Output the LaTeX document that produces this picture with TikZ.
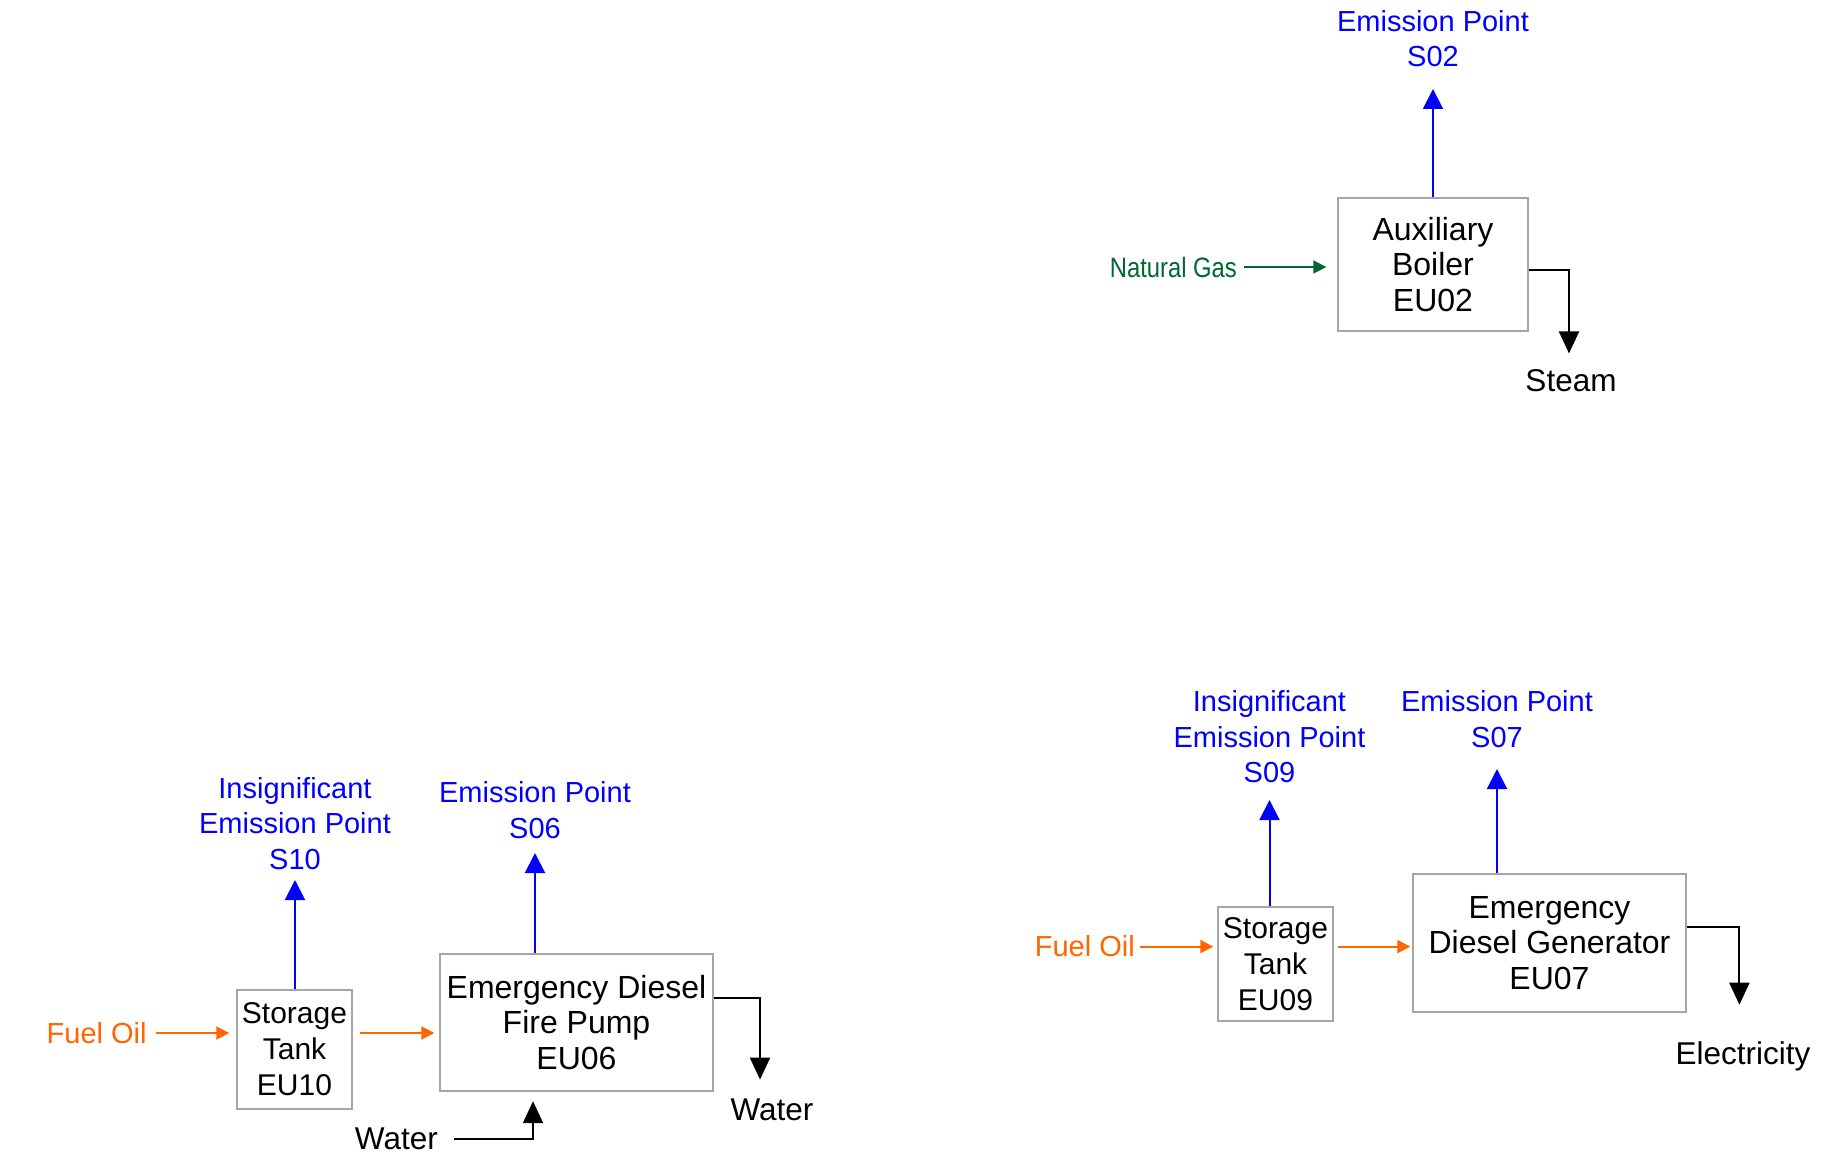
\documentclass[tikz,border=0pt]{standalone}
\usepackage{fontspec}
\setmainfont{Liberation Sans}
\newfontfamily\narrowfont[FakeStretch=0.85]{Liberation Sans}
\usepackage{tikz}
\usetikzlibrary{arrows.meta,positioning}
\usepackage{xcolor}
\definecolor{emitblue}{RGB}{0,0,255}
\definecolor{fueloil}{RGB}{255,102,0}
\definecolor{gasgreen}{RGB}{0,102,51}
\definecolor{boxgray}{RGB}{166,166,166}

\begin{document}
\begin{tikzpicture}[x=0.5pt, y=-0.5pt,
    txt/.style={inner sep=0pt, align=center, font=\fontsize{14.5}{17.75}\selectfont},
    prodtxt/.style={txt, font=\fontsize{15.75}{17.75}\selectfont},
    unit/.style={txt, draw=boxgray, line width=0.7pt, font=\fontsize{16}{17.75}\selectfont},
    tank/.style={unit, font=\fontsize{15}{18}\selectfont, minimum width=57.5pt},
    emitlbl/.style={txt, text=emitblue},
    emit/.style={emitblue, line width=1pt, -{Triangle[length=10pt,width=10pt]}},
    feed/.style={line width=1pt, -{Triangle[length=6.5pt,width=6.5pt]}},
    prod/.style={black, line width=1pt, -{Triangle[length=11pt,width=10pt]}}]

    \useasboundingbox (0,0) rectangle (1828,1155);

    % ---------------- Units ----------------
    \node[unit, minimum width=95pt, minimum height=66.5pt] (aux) at (1433,264.5) {Auxiliary\\Boiler\\EU02};
    \node[tank, minimum height=59.5pt] (tank10) at (294.5,1049.5) {Storage\\Tank\\EU10};
    \node[unit, minimum width=136.5pt, minimum height=68.5pt] (pump) at (576.5,1022.5) {Emergency Diesel\\Fire Pump\\EU06};
    \node[tank, minimum height=57pt] (tank09) at (1275.5,964) {Storage\\Tank\\EU09};
    \node[unit, minimum width=136.5pt, minimum height=69pt] (gen) at (1549.5,943) {Emergency\\Diesel Generator\\EU07};

    % ---------------- Emission points ----------------
    \node[emitlbl] (s02) at (1433,38.5) {Emission Point\\S02};
    \node[emitlbl] (s10) at (295,823.5) {Insignificant\\Emission Point\\S10};
    \node[emitlbl] (s06) at (535,810) {Emission Point\\S06};
    \node[emitlbl] (s09) at (1269.5,736.8) {Insignificant\\Emission Point\\S09};
    \node[emitlbl] (s07) at (1497,719.3) {Emission Point\\S07};
    \foreach \src/\dst/\tipy in {aux/s02/89, tank10/s10/880, pump/s06/853, tank09/s09/800, gen/s07/769}
        \draw[emit] (\dst.south |- \src.north) -- (\dst.south |- 0,\tipy);

    % ---------------- Fuel feeds ----------------
    \node[txt, text=gasgreen, font=\fontsize{14}{17}\narrowfont] (gas) at (1173.4,267) {Natural Gas};
    \draw[feed, gasgreen, shorten <=3.5pt, shorten >=5.5pt] (gas) -- (gas -| aux.west);

    \node[txt, text=fueloil] (fuel10) at (96.7,1033) {Fuel Oil};
    \draw[feed, fueloil, shorten <=4.5pt, shorten >=3.5pt] (fuel10) -- (fuel10 -| tank10.west);
    \draw[feed, fueloil, shorten <=3.5pt, shorten >=2.5pt] (tank10.east |- fuel10) -- (pump.west |- fuel10);

    \node[txt, text=fueloil] (fuel09) at (1084.8,946.6) {Fuel Oil};
    \draw[feed, fueloil, shorten <=2.5pt, shorten >=2pt] (fuel09) -- (fuel09 -| tank09.west);
    \draw[feed, fueloil, shorten <=2pt, shorten >=1pt] (tank09.east |- fuel09) -- (gen.west |- fuel09);

    % ---------------- Products ----------------
    \node[prodtxt] (steam) at (1571,381) {Steam};
    \draw[prod, shorten >=8pt] (aux.east |- 0,270) -| ([xshift=-1pt]steam.north);

    \node[prodtxt] (waterout) at (772,1110) {Water};
    \draw[prod, shorten >=9.5pt] (pump.east |- 0,998) -| ([xshift=-6pt]waterout.north);

    \node[prodtxt] (waterin) at (396.4,1139) {Water};
    \draw[prod, shorten <=8pt, shorten >=4.75pt] (waterin) -| (533,0 |- pump.south);

    \node[prodtxt] (elec) at (1743,1056.8) {Electricity};
    \draw[prod, shorten >=18.5pt] (gen.east |- 0,927) -| ([xshift=-1.8pt]elec.north);

\end{tikzpicture}
\end{document}
